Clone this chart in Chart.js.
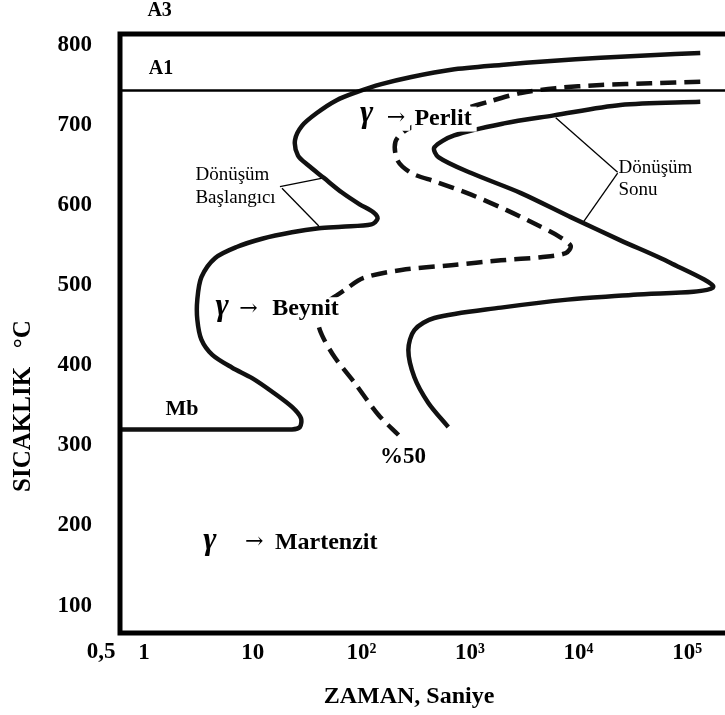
<!DOCTYPE html>
<html>
<head>
<meta charset="utf-8">
<script src="https://cdn.jsdelivr.net/npm/chart.js@4.4.1/dist/chart.umd.min.js"></script>
<style>
html,body{margin:0;padding:0;background:#ffffff;overflow:hidden}
canvas{display:block}
</style>
</head>
<body>
<canvas id="c" width="725" height="715"></canvas>
<script>
// ---- tick labels ----
const xTickValues = [1, 10, 100, 1000, 10000, 100000];
const xTickLabels = ['1', '10', '10²', '10³', '10⁴', '10⁵'];
const xOriginValue = 0.5;
const xOriginLabel = '0,5';
const yTickValues = [100, 200, 300, 400, 500, 600, 700, 800];

// ---- A1 line (°C) ----
const a1Temp = 743;

// ---- Dönüşüm başlangıcı (transformation start), time s / temperature °C ----
const startTime = [1.32e5, 4.58e4, 1.60e4, 5550, 1932, 673, 289, 153, 90.6, 59.3, 38.9, 28.4, 24.5, 26.1, 32.2, 45.1, 65.9, 96.4, 129, 141, 124, 65.9, 40.6, 23.0, 12.2, 7.20, 4.52, 3.37, 3.09, 3.09, 3.37, 4.25, 6.47, 9.87, 15.1, 23.0, 27.8, 27.2, 23.0, 9.87, 0.5];
const startTemp = [790, 787, 784, 780, 775, 769, 760, 751, 741, 731, 715, 699, 681, 662, 650, 634, 616, 601, 591, 583, 576, 573, 571, 566, 558, 548, 534, 510, 482, 457, 432, 413, 397, 384, 367, 348, 334, 323, 320, 320, 320];

// ---- %50 dönüşüm (dashed) ----
const halfTime = [1.32e5, 4.58e4, 1.60e4, 6166, 2947, 1565, 830, 441, 260, 206, 215, 289, 490, 1026, 2150, 4045, 6577, 8467, 7621, 4496, 1932, 673, 234, 105, 70.3, 45.1, 39.8, 43.3, 56.9, 86.8, 144, 220];
const halfTemp = [754, 752, 750, 746, 740, 730, 719, 706, 694, 679, 656, 640, 629, 613, 594, 576, 561, 549, 540, 535, 531, 525, 519, 509, 494, 475, 457, 438, 410, 378, 338, 313];

// ---- Dönüşüm sonu (transformation finish) ----
const finishTime = [1.32e5, 2.43e4, 5915, 2060, 716, 470, 512, 1026, 2947, 8467, 2.43e4, 6.98e4, 1.73e5, 3.20e4, 7943, 1932, 470, 308, 271, 308, 414, 631];
const finishTemp = [729, 725, 712, 702, 687, 672, 660, 640, 615, 585, 556, 528, 497, 488, 482, 472, 459, 444, 419, 385, 353, 323];

// ---- leader lines ----
const startLeaderA = {t: [17.8, 45.1], T: [623, 634]};
const startLeaderB = {t: [18.6, 40.6], T: [621, 574]};
const finishLeaderA = {t: [2.29e4, 6166], T: [641, 709]};
const finishLeaderB = {t: [2.29e4, 1.11e4], T: [640, 579]};

const SERIF = "'Liberation Serif','Times New Roman',serif";
const ARROW = "'DejaVu Serif','Liberation Serif',serif";

const toPts = (ts, Ts) => ts.map((t, i) => ({x: t, y: Ts[i]}));

// text annotations in data coordinates
const notes = [
  {text: 'A3', t: 1.39, T: 842, font: 'bold 20px ' + SERIF, align: 'center'},
  {text: 'A1', t: 1.43, T: 770, font: 'bold 20px ' + SERIF, align: 'center'},
  {text: 'Mb', t: 2.23, T: 345, font: 'bold 22px ' + SERIF, align: 'center'},
  {text: '%50', t: 242, T: 286, font: 'bold 23px ' + SERIF, align: 'center'},
  {text: 'Perlit', t: 308, T: 708, font: 'bold 24px ' + SERIF, align: 'left', bg: true},
  {text: '→', t: 171, T: 709, font: '22px ' + ARROW, align: 'left', bg: true},
  {text: 'γ', t: 112, T: 704, font: 'bold italic 32px ' + SERIF, align: 'center', base: 'alphabetic'},
  {text: 'Beynit', t: 15.1, T: 470, font: 'bold 24px ' + SERIF, align: 'left', bg: true},
  {text: '→', t: 7.50, T: 470, font: '22px ' + ARROW, align: 'left'},
  {text: 'γ', t: 5.24, T: 463, font: 'bold italic 32px ' + SERIF, align: 'center', base: 'alphabetic'},
  {text: 'Martenzit', t: 16.0, T: 179, font: 'bold 24px ' + SERIF, align: 'left'},
  {text: '→', t: 8.51, T: 179, font: '22px ' + ARROW, align: 'left'},
  {text: 'γ', t: 4.03, T: 171, font: 'bold italic 32px ' + SERIF, align: 'center', base: 'alphabetic'},
  {text: 'Dönüşüm', t: 2.97, T: 637, font: '19px ' + SERIF, align: 'left'},
  {text: 'Başlangıcı', t: 2.97, T: 609, font: '19px ' + SERIF, align: 'left'},
  {text: 'Dönüşüm', t: 2.33e4, T: 646, font: '19px ' + SERIF, align: 'left'},
  {text: 'Sonu', t: 2.33e4, T: 619, font: '19px ' + SERIF, align: 'left'}
];

const framePlugin = {
  id: 'frame',
  afterDatasetsDraw(chart) {
    const {ctx, chartArea: a, scales: {x, y}} = chart;
    ctx.save();
    // frame
    ctx.strokeStyle = '#000';
    ctx.lineWidth = 5;
    ctx.lineCap = 'butt';
    ctx.beginPath();
    ctx.moveTo(a.right + 10, a.top);
    ctx.lineTo(a.left, a.top);
    ctx.lineTo(a.left, a.bottom);
    ctx.lineTo(a.right + 10, a.bottom);
    ctx.stroke();
    // annotations
    notes.forEach(n => {
      const px = x.getPixelForValue(n.t);
      const py = y.getPixelForValue(n.T);
      ctx.font = n.font;
      ctx.textAlign = n.align;
      ctx.textBaseline = n.base || 'middle';
      if (n.bg) {
        const w = ctx.measureText(n.text).width;
        const left = n.align === 'left' ? px : px - w / 2;
        ctx.fillStyle = '#fff';
        ctx.fillRect(left - 3, py - 12, w + 8, 25);
      }
      ctx.fillStyle = '#000';
      ctx.fillText(n.text, px, py);
    });
    // origin tick label "0,5"
    ctx.font = 'bold 23px ' + SERIF;
    ctx.textAlign = 'right';
    ctx.textBaseline = 'middle';
    ctx.fillText(xOriginLabel, x.getPixelForValue(xOriginValue) + 4, a.bottom + 19);
    // axis titles
    ctx.font = 'bold 24px ' + SERIF;
    ctx.textAlign = 'center';
    ctx.fillText('ZAMAN, Saniye', a.left + 289, a.bottom + 64);
    ctx.save();
    ctx.translate(24, a.top + 372);
    ctx.rotate(-Math.PI / 2);
    ctx.font = 'bold 25px ' + SERIF;
    ctx.fillText('SICAKLIK   °C', 0, 0);
    ctx.restore();
    ctx.restore();
  }
};

const solid = {borderColor: '#111', borderWidth: 4.5, pointRadius: 0, showLine: true, tension: 0.3, fill: false};
const thin = {borderColor: '#000', borderWidth: 1.3, pointRadius: 0, showLine: true, tension: 0, fill: false};

new Chart(document.getElementById('c'), {
  type: 'scatter',
  data: {
    datasets: [
      Object.assign({label: 'A1', data: [{x: 0.1, y: a1Temp}, {x: 1e7, y: a1Temp}]}, thin, {borderWidth: 2.5}),
      Object.assign({label: 'Dönüşüm Başlangıcı', data: toPts(startTime, startTemp)}, solid),
      Object.assign({label: '%50', data: toPts(halfTime, halfTemp)}, solid, {borderDash: [16, 8], borderWidth: 4.5}),
      Object.assign({label: 'Dönüşüm Sonu', data: toPts(finishTime, finishTemp)}, solid),
      Object.assign({label: 'l1', data: toPts(startLeaderA.t, startLeaderA.T)}, thin),
      Object.assign({label: 'l2', data: toPts(startLeaderB.t, startLeaderB.T)}, thin),
      Object.assign({label: 'l3', data: toPts(finishLeaderA.t, finishLeaderA.T)}, thin),
      Object.assign({label: 'l4', data: toPts(finishLeaderB.t, finishLeaderB.T)}, thin)
    ]
  },
  options: {
    responsive: false,
    animation: false,
    devicePixelRatio: 1,
    layout: {padding: {top: 34, right: 0, left: 0, bottom: 0}},
    plugins: {legend: {display: false}, tooltip: {enabled: false}, title: {display: false}},
    scales: {
      x: {
        type: 'logarithmic',
        min: 0.6353,
        max: 2.23e5,
        grid: {display: false, drawTicks: false},
        border: {display: false},
        afterBuildTicks: s => { s.ticks = xTickValues.map(v => ({value: v})); },
        afterFit: s => { s.height = 82; s.paddingLeft = 0; s.paddingRight = 0; },
        ticks: {
          autoSkip: false, maxRotation: 0, padding: 6, color: '#000',
          font: {family: SERIF, size: 23, weight: 'bold'},
          callback: (v) => { const i = xTickValues.indexOf(v); return i >= 0 ? xTickLabels[i] : ''; }
        }
      },
      y: {
        type: 'linear',
        min: 65.8,
        max: 813.6,
        grid: {display: false, drawTicks: false},
        border: {display: false},
        afterBuildTicks: s => { s.ticks = yTickValues.map(v => ({value: v})); },
        afterFit: s => { s.width = 120; s.paddingTop = 0; s.paddingBottom = 0; },
        ticks: {
          autoSkip: false, padding: 28, color: '#000',
          font: {family: SERIF, size: 23, weight: 'bold'},
          callback: v => String(v)
        }
      }
    }
  },
  plugins: [framePlugin]
});
</script>
</body>
</html>
